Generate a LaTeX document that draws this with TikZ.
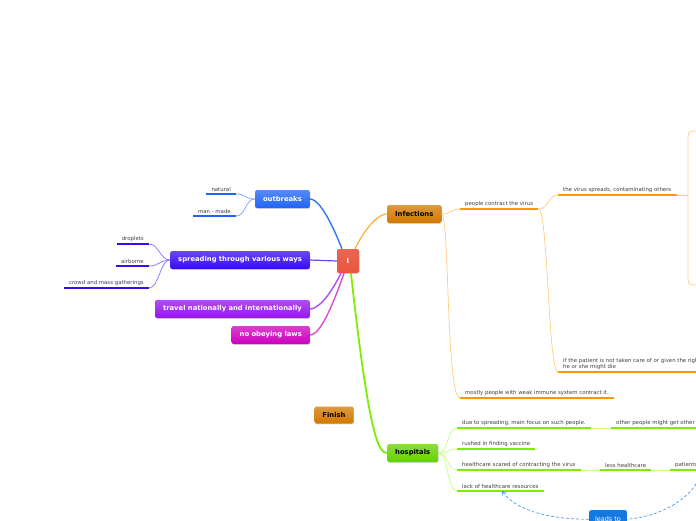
\documentclass[tikz,border=0pt]{standalone}
\usepackage{fontspec}
\setmainfont{DejaVu Sans}
\usetikzlibrary{positioning, arrows.meta, shadows}
\definecolor{coreRed}{RGB}{232,85,62}
\definecolor{outBlue}{RGB}{30,100,245}
\definecolor{spreadBlue}{RGB}{55,10,240}
\definecolor{travelPurple}{RGB}{150,20,235}
\definecolor{lawPink}{RGB}{205,0,190}
\definecolor{infOrange}{RGB}{210,120,0}
\definecolor{hospGreen}{RGB}{100,210,0}
\definecolor{leadBlue}{RGB}{20,120,225}
\definecolor{leafOrange}{RGB}{255,153,0}
\definecolor{leafGreen}{RGB}{125,238,0}
\definecolor{outThin}{RGB}{120,160,255}
\definecolor{spreadThin}{RGB}{135,115,255}
\definecolor{infThin}{RGB}{255,205,130}
\definecolor{hospThin}{RGB}{195,255,130}

\begin{document}
\begin{tikzpicture}[x=1pt, y=-1pt,
  topic/.style={font=\fontsize{6.8}{8}\selectfont\bfseries, text=white, rounded corners=2pt,
    minimum height=18pt, inner xsep=8pt, top color=#1!75!white, bottom color=#1,
    drop shadow={shadow xshift=0.5pt, shadow yshift=-0.8pt, opacity=0.3}},
  leaf/.style={font=\fontsize{5.4}{6.6}\selectfont, text=black!75, inner xsep=5pt, inner ysep=2pt, align=left},
]
  \useasboundingbox (0,0) rectangle (696,520);

  \node[topic=coreRed, top color=coreRed!90!white, minimum width=22pt, minimum height=24pt, inner xsep=0pt] (core) at (348,261) {I};
  \node[topic=outBlue, anchor=east] (outbreaks) at (310,199) {outbreaks};
  \node[topic=spreadBlue, anchor=east] (spreading) at (310,260) {spreading through various ways};
  \node[topic=travelPurple, anchor=east] (travel) at (310,309) {travel nationally and internationally};
  \node[topic=lawPink, anchor=east] (laws) at (310,335) {no obeying laws};
  \node[topic=infOrange, text=black, anchor=west] (infections) at (387,214) {Infections};
  \node[topic=hospGreen, text=black, anchor=west] (hospitals) at (387,453) {hospitals};
  \node[topic=infOrange, text=black, minimum height=17pt] (finish) at (334,415) {Finish};
  \node[font=\fontsize{6.5}{8}\selectfont, text=white, fill=leadBlue, rounded corners=2pt,
    minimum height=18pt, inner xsep=6pt, anchor=north] (leadsto) at (608,510) {leads to};

  \node[leaf, anchor=south east] (natural) at (236,194) {natural};
  \node[leaf, anchor=south east] (manmade) at (236,216) {man - made};
  \node[leaf, anchor=south east] (droplets) at (149,244) {droplets};
  \node[leaf, anchor=south east] (airborne) at (149,266) {airborne};
  \node[leaf, anchor=south east] (crowd) at (149,288) {crowd and mass gatherings};

  \node[leaf, anchor=south west] (contract) at (460,209) {people contract the virus};
  \node[leaf, anchor=south west] (spreads) at (558,195) {the virus spreads, contaminating others};
  \node[leaf, anchor=south west] (care) at (558,372) {if the patient is not taken care of or given the right\\he or she might die};
  \node[leaf, anchor=south west] (weak) at (460,398) {mostly people with weak immune system contract it.};

  \node[leaf, anchor=south west] (focus) at (457,428) {due to spreading, main focus on such people.};
  \node[leaf, anchor=south west] (others) at (611,428) {other people might get other};
  \node[leaf, anchor=south west] (vaccine) at (457,449) {rushed in finding vaccine};
  \node[leaf, anchor=south west] (scared) at (457,470) {healthcare scared of contracting the virus};
  \node[leaf, anchor=south west] (less) at (600,470) {less healthcare};
  \node[leaf, anchor=south west] (patients) at (670,470) {patients};
  \node[leaf, anchor=south west] (resources) at (457,491) {lack of healthcare resources};

  \foreach \n/\c in {natural/outBlue, manmade/outBlue, droplets/spreadBlue, airborne/spreadBlue,
      crowd/spreadBlue, contract/leafOrange, spreads/leafOrange, care/leafOrange, weak/leafOrange,
      focus/leafGreen, others/leafGreen, vaccine/leafGreen, scared/leafGreen, less/leafGreen,
      patients/leafGreen, resources/leafGreen}
    \draw[\c, line width=2.4pt] (\n.south west) -- (\n.south east);

  \draw[outBlue!90!white, line width=1.4pt] ([xshift=-6pt]core.north) .. controls +(-16,-40) and +(6,0) .. (outbreaks.east);
  \draw[spreadBlue!75!white, line width=1.2pt] (core.west) -- (spreading.east);
  \draw[travelPurple!75!white, line width=1.4pt] ([xshift=-7pt]core.south) .. controls +(-14,28) and +(6,0) .. (travel.east);
  \draw[lawPink!70!white, line width=1.4pt] ([xshift=-4pt]core.south) .. controls +(-18,52) and +(6,0) .. (laws.east);
  \draw[leafGreen, line width=1.8pt] ([xshift=3pt]core.south) .. controls +(18,165) and +(-8,0) .. (hospitals.west);
  \draw[leafOrange!80!white, line width=1.2pt] ([xshift=7pt]core.north) .. controls +(14,-28) and +(-6,0) .. (infections.west);

  \foreach \n in {natural, manmade}
    \draw[outThin, line width=0.7pt] (outbreaks.west) .. controls +(-10,0) and +(10,0) .. (\n.south east);
  \foreach \n in {droplets, airborne, crowd}
    \draw[spreadThin, line width=0.7pt] (spreading.west) .. controls +(-10,0) and +(10,0) .. (\n.south east);
  \draw[infThin, line width=0.7pt] (infections.east) .. controls +(10,0) and +(-10,0) .. (contract.south west);
  \draw[infThin, line width=0.7pt] (infections.east) .. controls +(8,0) and +(-14,0) .. (weak.south west);
  \foreach \n in {spreads, care}
    \draw[infThin, line width=0.7pt] (contract.south east) .. controls +(10,0) and +(-10,0) .. (\n.south west);
  \coordinate (brace) at (688,195);
  \draw[infThin, line width=0.7pt] (spreads.south east) -- (brace);
  \draw[infThin, line width=0.7pt] (697,131) .. controls (688,131) .. (688,142) -- (688,274) .. controls (688,285) .. (697,285);

  \foreach \n in {focus, vaccine, scared, resources}
    \draw[hospThin, line width=0.7pt] (hospitals.east) .. controls +(10,0) and +(-10,0) .. (\n.south west);
  \draw[hospThin, line width=0.7pt] (focus.south east) -- (others.south west);
  \draw[hospThin, line width=0.7pt] (scared.south east) -- (less.south west);
  \draw[hospThin, line width=0.7pt] (less.south east) -- (patients.south west);

  \draw[leadBlue!75!white, line width=0.7pt, dash pattern=on 3pt off 2pt] (patients.south east) .. controls +(-8,30) and +(30,-2) .. (leadsto.east);
  \draw[leadBlue!75!white, line width=0.7pt, dash pattern=on 3pt off 2pt, -{Straight Barb[length=3pt, width=5pt]}] (leadsto.west) .. controls +(-50,0) and +(10,15) .. ([xshift=2pt]resources.south);
\end{tikzpicture}
\end{document}
